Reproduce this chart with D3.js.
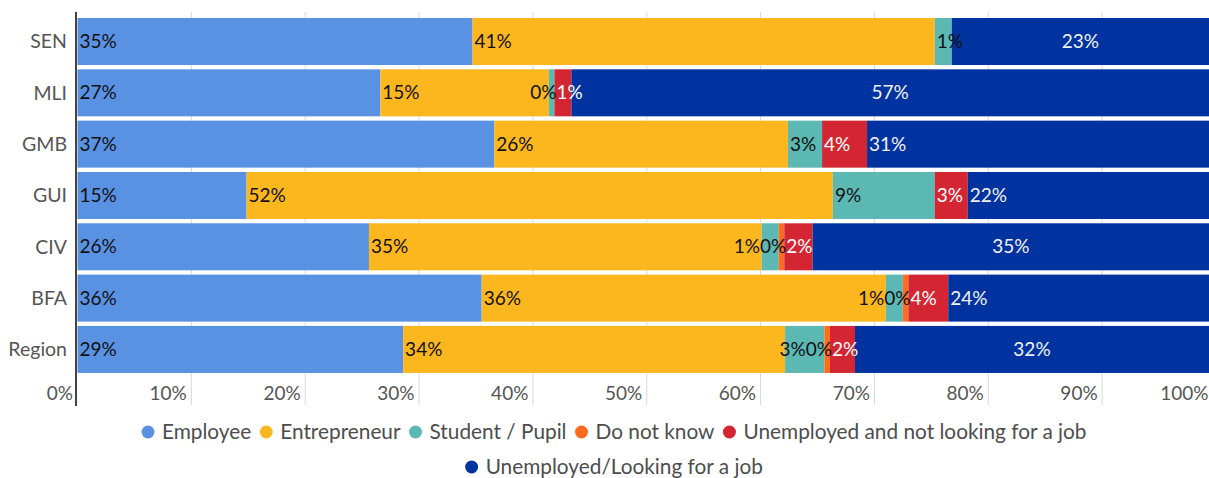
<!DOCTYPE html>
<html>
<head>
<meta charset="utf-8">
<script src="https://cdn.jsdelivr.net/npm/d3@7"></script>
<style>
  html, body { margin: 0; padding: 0; background: #fff; }
  svg { display: block; font-family: Lato, "Open Sans", sans-serif; }
</style>
</head>
<body>
<svg id="chart" width="1209" height="478"></svg>
<script>
// Occupation status by country (share of respondents, %)
const categories = ["SEN", "MLI", "GMB", "GUI", "CIV", "BFA", "Region"];
const seriesNames = ["Employee", "Entrepreneur", "Student / Pupil", "Do not know",
  "Unemployed and not looking for a job", "Unemployed/Looking for a job"];

const employee     = [34.7, 26.6, 36.6, 14.85, 25.6, 35.5, 28.6];
const entrepreneur = [40.6, 14.8, 25.8, 51.5, 34.5, 35.5, 33.55];
const student      = [1.49, 0.49, 3.0, 8.95, 1.49, 1.49, 3.45];
const doNotKnow    = [null, null, null, null, 0.49, 0.49, 0.49];
const notLooking   = [null, 1.49, 3.95, 2.9, 2.49, 3.5, 2.2];
const looking      = [23.21, 56.62, 30.65, 21.8, 35.43, 23.52, 31.71];

const xTicks = [0, 10, 20, 30, 40, 50, 60, 70, 80, 90, 100];

const colors = ["#5a92e3", "#fdb71e", "#5cb8b2", "#ff6b1f", "#d42632", "#0033a0"];
const labelColors = ["#111", "#111", "#111", "#111", "#fff", "#f2f2f2"];
// placement of the last segment's label in each row
const lastLabelAlign = ["middle", "middle", "start", "start", "middle", "start", "middle"];

const seriesValues = [employee, entrepreneur, student, doNotKnow, notLooking, looking];

const svg = d3.select("#chart");

const x = d3.scaleLinear().domain([0, 100]).range([77.5, 1216]);
const y = d3.scaleBand().domain(categories).range([15.85, 375.1])
  .paddingInner(0.084).paddingOuter(0.042);

const rows = categories.map((c, i) => {
  const r = { cat: c };
  seriesNames.forEach((s, k) => { r[s] = seriesValues[k][i] || 0; });
  return r;
});
const stacked = d3.stack().keys(seriesNames)(rows);

// grid lines
const gridTop = 12, gridBottom = 405;
svg.append("g").selectAll("line")
  .data(xTicks.filter(t => t > 0))
  .join("line")
  .attr("x1", d => x(d)).attr("x2", d => x(d))
  .attr("y1", gridTop).attr("y2", gridBottom)
  .attr("stroke", "#d9d9d9").attr("stroke-width", 1);

// bars
stacked.forEach((layer, k) => {
  svg.append("g").attr("fill", colors[k])
    .selectAll("rect")
    .data(layer.filter((d, i) => seriesValues[k][i] != null))
    .join("rect")
    .attr("x", d => x(d[0]))
    .attr("y", d => y(d.data.cat))
    .attr("width", d => x(d[1]) - x(d[0]))
    .attr("height", y.bandwidth());
});

// axis line
svg.append("line")
  .attr("x1", 76).attr("x2", 76).attr("y1", gridTop).attr("y2", gridBottom + 1)
  .attr("stroke", "#444").attr("stroke-width", 2);

// x tick labels
const xAxis = d3.axisBottom(x).tickValues(xTicks).tickFormat(d => d + "%").tickSize(0);
const gx = svg.append("g").attr("transform", "translate(0,383)").call(xAxis);
gx.select(".domain").remove();
gx.selectAll("text")
  .attr("font-family", "Lato, sans-serif")
  .attr("font-size", 19)
  .attr("fill", "#555")
  .attr("text-anchor", "end")
  .attr("dy", null)
  .attr("y", 17)
  .attr("x", d => Math.min(-5, 1208 - x(d)));

// category labels
const yAxis = d3.axisLeft(y).tickSize(0);
const gy = svg.append("g").attr("transform", "translate(67,0)").call(yAxis);
gy.select(".domain").remove();
gy.selectAll("text")
  .attr("font-family", "Lato, sans-serif")
  .attr("font-size", 19.5)
  .attr("fill", "#555")
  .attr("x", 0)
  .attr("dy", "0.35em");

// data labels: start of each segment, shifted left where they would collide
const labelLayer = svg.append("g")
  .attr("font-family", "Lato, sans-serif")
  .attr("font-size", 19);

categories.forEach((cat, i) => {
  const items = [];
  stacked.forEach((layer, k) => {
    const v = seriesValues[k][i];
    if (v == null) return;
    const d = layer[i];
    const t = labelLayer.append("text")
      .attr("y", y(cat) + y.bandwidth() / 2)
      .attr("dy", "0.35em")
      .attr("fill", labelColors[k])
      .text(Math.round(v) + "%");
    const w = t.node().getComputedTextLength();
    let left;
    if (k === seriesNames.length - 1 && lastLabelAlign[i] === "middle") {
      const x0 = x(d[0]), x1 = Math.min(x(d[1]), 1209);
      left = (x0 + x1) / 2 - w / 2;
    } else {
      left = x(d[0]) + 2;
    }
    items.push({ t, w, left });
  });
  for (let j = items.length - 2; j >= 0; j--) {
    const next = items[j + 1];
    if (items[j].left + items[j].w > next.left) items[j].left = next.left - items[j].w;
  }
  items.forEach(it => it.t.attr("x", it.left));
});

// legend
const legend = svg.append("g")
  .attr("font-family", "Lato, sans-serif")
  .attr("font-size", 20.8)
  .attr("fill", "#4d4d4d");
const legendRows = [[0, 1, 2, 3, 4], [5]];
const legendY = [432, 467];
const legendCenter = 614;
legendRows.forEach((idxs, r) => {
  const g = legend.append("g");
  let cx = 0;
  idxs.forEach(k => {
    g.append("circle").attr("cx", cx).attr("cy", 0).attr("r", 6.5).attr("fill", colors[k]);
    const t = g.append("text").attr("x", cx + 14).attr("y", 0).attr("dy", "0.35em").text(seriesNames[k]);
    const w = t.node().getComputedTextLength();
    cx = cx + 14 + w + 15;
  });
  const total = cx - 15 + 6.5;
  g.attr("transform", `translate(${legendCenter - total / 2 + 6.5},${legendY[r]})`);
});
</script>
</body>
</html>
